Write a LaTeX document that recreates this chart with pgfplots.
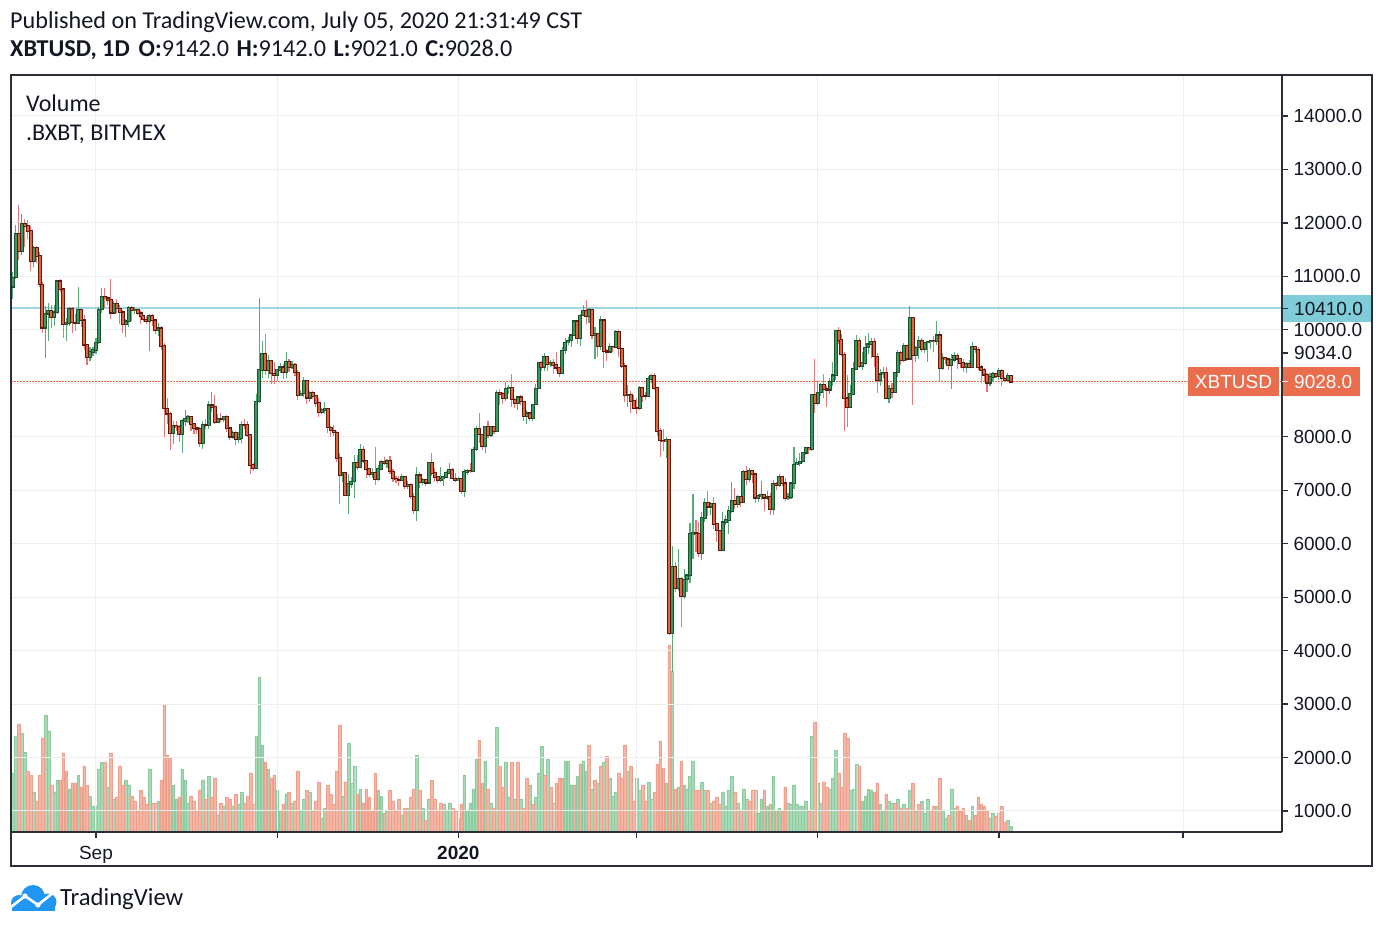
\documentclass[border=0pt]{standalone}
\usepackage{pgfplots}
\pgfplotsset{compat=1.18}
\usepackage{pgfplotstable}
\usepackage{fontspec}
\setmainfont{Carlito}
\newfontfamily\arialf{Liberation Sans}
\definecolor{upfill}{HTML}{3A9A5E}
\definecolor{upborder}{HTML}{1D4F31}
\definecolor{upwick}{HTML}{5AAA78}
\definecolor{dnfill}{HTML}{E4643C}
\definecolor{dnborder}{HTML}{5C1B10}
\definecolor{dnwick}{HTML}{E47878}
\definecolor{volg}{HTML}{A8D9B7}
\definecolor{volgd}{HTML}{8CCBA0}
\definecolor{volr}{HTML}{F6B6A6}
\definecolor{volrd}{HTML}{EFA08C}
\definecolor{gridc}{HTML}{EEEEEE}
\definecolor{textc}{HTML}{131722}
\definecolor{framec}{HTML}{2A2E39}
\definecolor{bluebox}{HTML}{81CCD9}
\definecolor{blueline}{HTML}{9FD6E1}
\definecolor{orangebox}{HTML}{EA6E4E}
\definecolor{dotred}{HTML}{EC6A48}
\definecolor{tvblue}{HTML}{2196F3}

\pgfplotstableread{
d o h l c
0 10807 11075 10577 10976
1 10976 11961 10950 11793
3 11462 12160 11400 11980
7 11280 11560 11180 11530
11 10040 10450 9480 10300
12 10300 10500 9800 10360
14 10230 10470 10080 10330
15 10330 10930 10300 10910
18 10110 10230 9800 10130
19 10130 10430 10080 10400
22 10130 10800 10120 10370
26 9490 9680 9420 9590
27 9590 9680 9520 9620
28 9620 9850 9550 9760
29 9760 10430 9740 10380
30 10380 10780 10320 10620
34 10320 10540 10300 10490
38 10100 10200 9860 10160
39 10160 10440 10050 10420
41 10360 10420 10290 10380
46 10160 10300 9600 10270
49 9990 10120 9880 10030
54 8060 8300 7870 8200
57 8050 8340 7700 8300
58 8300 8500 8200 8340
59 8340 8400 8250 8380
64 7880 8290 7780 8220
66 8210 8660 8150 8590
69 8270 8420 8250 8330
71 8320 8390 8270 8370
74 8000 8120 7960 8080
76 7960 8080 7880 7980
77 7980 8300 7880 8230
82 7410 8800 7400 8660
83 8660 10590 8630 9250
84 9250 9800 9100 9550
86 9250 9530 9100 9430
89 9150 9260 9050 9250
90 9250 9380 9200 9300
92 9200 9580 9100 9400
94 9300 9420 9270 9350
97 8770 8880 8760 8810
98 8810 9120 8740 9040
100 8730 8860 8650 8820
104 8460 8530 8430 8500
105 8500 8650 8430 8530
111 7280 7350 7150 7320
113 6900 7300 6550 7120
114 7120 7250 7050 7160
115 7160 7650 6850 7510
117 7430 7860 7420 7750
121 7300 7420 7230 7330
123 7200 7480 7180 7400
124 7400 7560 7380 7530
126 7510 7580 7420 7550
131 7190 7300 7180 7250
133 7070 7170 7030 7110
136 6620 7440 6430 7280
138 7150 7220 7090 7190
140 7140 7520 7130 7510
144 7190 7430 7160 7220
145 7220 7270 7080 7250
146 7250 7360 7240 7320
147 7320 7510 7300 7390
150 7190 7250 7170 7210
152 6980 7400 6880 7340
153 7340 7390 7280 7370
155 7350 7800 7340 7760
156 7760 8200 7730 8150
159 7820 8200 7690 8190
161 8020 8200 8000 8180
163 8100 8880 8090 8820
166 8720 9030 8670 8900
167 8900 8970 8800 8920
170 8630 8750 8500 8740
173 8390 8500 8240 8440
175 8340 8610 8300 8600
176 8600 8980 8590 8900
177 8900 9400 8890 9390
179 9300 9570 9230 9500
181 9350 9440 9300 9390
185 9180 9680 9170 9610
186 9610 9840 9540 9760
187 9760 9870 9720 9800
188 9800 9920 9680 9900
189 9900 10170 9880 10160
191 9850 10300 9700 10270
192 10270 10460 10260 10350
194 10250 10400 10130 10370
196 9900 10050 9450 9930
198 9700 10250 9620 10180
201 9590 9750 9560 9690
203 9670 9990 9670 9970
207 8780 8970 8560 8790
211 8530 8950 8510 8920
214 8750 9140 8750 9080
215 9080 9170 9000 9140
220 7910 8000 7600 7940
222 4330 5950 3600 5570
224 5170 5900 5120 5350
226 5010 5530 4960 5330
227 5330 5420 5090 5410
228 5410 6380 5260 6180
229 6180 6930 5720 6200
232 5820 6600 5700 6480
233 6480 6850 6400 6760
235 6690 6780 6540 6740
239 5880 6600 5860 6400
240 6400 6530 6350 6440
241 6440 6700 6180 6610
242 6610 7150 6580 6800
244 6740 6920 6660 6870
246 6780 7370 6780 7340
248 7200 7420 7150 7370
251 6860 6930 6780 6890
252 6890 7180 6820 6910
254 6860 6980 6810 6870
256 6640 7200 6540 7120
258 7100 7300 7060 7260
261 6850 6950 6810 6870
262 6870 7150 6840 7130
263 7130 7800 7030 7480
264 7480 7600 7470 7510
265 7510 7700 7450 7540
266 7540 7710 7500 7700
267 7700 7800 7660 7790
269 7770 8800 7740 8780
271 8620 9050 8600 8830
272 8830 9000 8770 8970
275 8880 9100 8800 9030
276 9030 9390 8950 9150
277 9150 10000 9060 9990
282 8560 8960 8530 8800
283 8800 9400 8780 9270
284 9270 9900 9260 9800
286 9320 9590 9250 9380
287 9380 9880 9350 9670
288 9670 9950 9550 9730
289 9730 9850 9480 9770
292 9060 9260 8950 9170
293 9170 9300 9090 9190
295 8720 8970 8640 8900
297 8840 9220 8820 9200
298 9200 9620 9110 9570
300 9430 9750 9390 9700
302 9460 10450 9430 10220
304 9520 9690 9400 9670
305 9670 9880 9460 9800
307 9640 9760 9560 9760
308 9760 9800 9400 9780
309 9780 9800 9650 9800
311 9780 10170 9710 9900
313 9280 9560 9250 9470
316 9340 9540 8900 9440
317 9440 9580 9390 9520
321 9300 9400 9200 9360
323 9300 9780 9290 9690
329 9010 9190 8950 9120
330 9120 9220 9020 9180
332 9130 9290 9070 9230
335 9060 9190 9050 9140
}\uptab

\pgfplotstableread{
d o h l c
2 11793 12335 11300 11462
4 11980 12080 11550 11940
5 11940 12050 11700 11850
6 11850 11950 11100 11280
8 11530 11560 11250 11380
9 11380 11450 10800 10850
10 10850 10900 9950 10040
13 10360 10470 10040 10230
16 10910 10950 10700 10760
17 10760 10780 9850 10110
20 10400 10420 9950 10140
21 10140 10300 9980 10130
23 10370 10390 10050 10180
24 10180 10280 9630 9720
25 9720 9730 9350 9490
31 10620 10790 10400 10590
32 10590 10630 10460 10560
33 10560 10950 10200 10320
35 10490 10580 10320 10400
36 10400 10460 10100 10330
37 10330 10380 9950 10100
40 10420 10440 10160 10360
42 10380 10390 10270 10310
43 10310 10370 10100 10260
44 10260 10270 10150 10190
45 10190 10250 10100 10160
47 10270 10290 10080 10180
48 10180 10190 9930 9990
50 10030 10070 9620 9700
51 9700 9760 8000 8530
52 8530 8730 8230 8430
53 8430 8470 7750 8060
55 8200 8300 8100 8180
56 8180 8220 7900 8050
60 8380 8390 8100 8240
61 8240 8250 8050 8160
62 8160 8190 8050 8150
63 8150 8190 7800 7880
65 8220 8330 8140 8210
67 8590 8840 8460 8560
68 8560 8790 8230 8270
70 8330 8450 8270 8320
72 8370 8410 8090 8160
73 8160 8170 7940 8000
75 8080 8100 7850 7960
78 8230 8330 8150 8220
79 8220 8300 8000 8030
80 8030 8050 7300 7470
81 7470 7500 7360 7410
85 9550 9930 9150 9250
87 9430 9440 8980 9180
88 9180 9400 8980 9150
91 9300 9360 9080 9200
93 9400 9450 9220 9300
95 9350 9380 9130 9200
96 9200 9240 8690 8770
99 9040 9070 8610 8730
101 8820 8850 8710 8760
102 8760 8790 8560 8630
103 8630 8730 8370 8460
106 8530 8540 8070 8170
107 8170 8200 8000 8120
108 8120 8220 8020 8080
109 8080 8110 7520 7600
110 7600 7700 6750 7280
112 7320 7340 6890 6900
116 7510 7650 7380 7430
118 7750 7820 7500 7550
119 7550 7560 7230 7400
120 7400 7420 7250 7300
122 7330 7800 7100 7200
125 7530 7620 7480 7510
127 7550 7640 7300 7350
128 7350 7390 7160 7220
129 7220 7270 7130 7200
130 7200 7260 7080 7190
132 7250 7270 7030 7070
134 7110 7130 6840 6880
135 6880 6940 6560 6620
137 7280 7350 7040 7150
139 7190 7200 7080 7140
141 7510 7700 7260 7320
142 7320 7420 7160 7250
143 7250 7270 7130 7190
148 7390 7410 7220 7220
149 7220 7320 7150 7190
151 7210 7210 6920 6980
154 7370 7500 7330 7350
157 8150 8450 7880 8040
158 8040 8060 7750 7820
160 8190 8290 7970 8020
162 8180 8200 8060 8100
164 8820 8900 8600 8800
165 8800 8840 8610 8720
168 8920 9170 8560 8700
169 8700 8730 8530 8630
171 8740 8790 8600 8660
172 8660 8670 8300 8390
174 8440 8450 8290 8340
178 9390 9420 9230 9300
180 9500 9510 9230 9350
182 9390 9460 9170 9340
183 9340 9590 9230 9290
184 9290 9300 9110 9180
190 10160 10170 9730 9850
193 10350 10560 10100 10250
195 10370 10380 9830 9900
197 9930 9950 9500 9700
199 10180 10200 9280 9600
200 9600 9650 9420 9590
202 9690 9700 9580 9670
204 9970 10000 9500 9650
205 9650 9660 9280 9320
206 9320 9380 8650 8780
208 8790 8860 8450 8670
209 8670 8780 8540 8540
210 8540 8730 8420 8530
212 8920 8920 8650 8760
213 8760 8840 8690 8750
216 9140 9190 8880 8910
217 8910 8910 8010 8110
218 8110 8160 7630 7930
219 7930 8150 7740 7910
221 7940 7960 4300 4330
223 5570 5650 5100 5170
225 5350 5370 4440 5010
230 6200 6450 5850 6190
231 6190 6410 5760 5820
234 6760 6980 6520 6690
236 6740 6870 6280 6370
237 6370 6380 6030 6250
238 6250 6260 5880 5880
243 6800 7050 6650 6740
245 6870 6900 6680 6780
247 7340 7460 7100 7200
249 7370 7380 7130 7300
250 7300 7310 6770 6860
253 6910 6920 6620 6860
255 6870 6940 6540 6640
257 7120 7150 7010 7100
259 7260 7270 7070 7130
260 7130 7220 6790 6850
268 7790 7810 7670 7770
270 8780 9460 8440 8620
273 8970 9180 8720 8890
274 8890 8950 8560 8880
278 9990 10060 9730 9810
279 9810 9920 9520 9540
280 9540 9580 8110 8720
281 8720 9150 8180 8560
285 9800 9850 9280 9320
290 9770 9840 9300 9500
291 9500 9570 8820 9060
294 9190 9300 8700 8720
296 8900 9010 8720 8840
299 9570 9600 9340 9430
301 9700 9720 9410 9460
303 10220 10230 8600 9520
306 9800 9850 9590 9640
310 9800 9880 9580 9780
312 9900 9980 9040 9280
314 9470 9490 9360 9450
315 9450 9480 9240 9340
318 9520 9560 9260 9460
319 9460 9480 9280 9380
320 9380 9450 9220 9300
322 9360 9430 9280 9300
324 9690 9700 9560 9630
325 9630 9670 9240 9300
326 9300 9340 9010 9250
327 9250 9280 9040 9160
328 9160 9190 8830 9010
331 9180 9200 9090 9130
333 9230 9270 8950 9090
334 9090 9120 9040 9060
336 9142 9142 9021 9028
}\dntab

\pgfplotsset{
  wickup/.style={draw=none, mark=none, forget plot,
    error bars/.cd, y dir=both, y explicit, error mark=none,
    error bar style={draw=upwick, line width=1.1bp}},
  wickdn/.style={draw=none, mark=none, forget plot,
    error bars/.cd, y dir=both, y explicit, error mark=none,
    error bar style={draw=dnwick, line width=1.1bp}},
  bodyout/.style={draw=none, mark=none, forget plot,
    error bars/.cd, y dir=both, y explicit, error mark=none,
    error bar style={draw=#1, line width=4bp}},
  bodyin/.style={draw=none, mark=none, forget plot,
    error bars/.cd, y dir=both, y explicit, error mark=none,
    error bar style={draw=#1, line width=2bp}},
}

\begin{document}
\begin{tikzpicture}
\fill[white] (0bp,0bp) rectangle (1383bp,929bp);

% ---------- volume pane ----------
\begin{axis}[at={(11bp,97bp)}, anchor=south west, scale only axis,
  width=1271bp, height=757bp,
  xmin=-0.6, xmax=427.3, ymin=0, ymax=757,
  hide axis, clip=true]
\addplot[ybar, bar width=2.7bp, bar shift=0bp, fill=volg, draw=volgd, line width=0.4bp] coordinates {
(0,59) (1,96) (3,99) (4,80) (7,40) (11,117) (12,101) (14,40) (15,52) (19,43) (22,57) (26,36) (27,26) (28,26) (29,63) (30,70) (32,45) (34,33) (38,52) (39,47) (46,63) (49,31) (54,47) (55,33) (57,63) (58,52) (59,29) (64,52) (66,56) (69,17) (71,26) (74,26) (76,28) (77,40) (82,96) (83,155) (84,87)
(86,63) (89,42) (90,22) (92,38) (94,29) (97,21) (98,33) (100,40) (104,14) (105,24) (111,36) (113,89) (114,49) (115,66) (117,43) (123,42) (124,36) (126,21) (131,17) (133,24) (136,77) (138,24) (140,33) (145,28) (146,22) (147,29) (150,14) (152,57) (153,22) (154,29) (155,43) (156,73) (159,71) (161,29) (163,105) (166,70) (167,35) (169,33)
(171,33) (174,47) (176,35) (177,59) (178,86) (180,73) (182,29) (186,71) (187,71) (188,47) (190,56) (192,71) (193,61) (195,43) (197,49) (199,70) (201,54) (202,36) (203,40) (207,61) (210,54) (211,42) (214,50) (215,33) (220,49) (222,161) (224,45) (226,47) (227,43) (228,56) (229,71) (232,50) (233,42) (235,29) (239,40) (240,26) (241,42) (242,56) (244,29) (246,43) (247,33) (250,42) (251,19) (252,33) (254,26)
(256,56) (258,24) (261,29) (262,28) (263,47) (264,28) (265,26) (266,26) (267,31) (269,96) (271,49) (272,29) (275,43) (276,54) (277,82) (282,42) (283,43) (284,68) (286,31) (287,36) (288,43) (289,42) (292,28) (293,21) (295,31) (296,29) (298,33) (300,28) (302,42) (304,21) (306,31) (307,19) (308,33) (311,26) (313,22) (314,14) (316,43) (317,24) (321,17) (323,26) (329,14) (330,19) (332,19) (335,12) (336,6)
};
\addplot[ybar, bar width=2.7bp, bar shift=0bp, fill=volr, draw=volrd, line width=0.4bp] coordinates {
(2,108) (5,61) (6,57) (8,31) (9,57) (10,94) (13,47) (16,52) (17,79) (18,61) (20,49) (21,49) (23,45) (24,66) (25,47) (31,70) (33,79) (35,35) (36,66) (37,47) (40,36) (41,31) (42,21) (43,42) (44,35) (45,28) (47,29) (48,29) (50,52) (51,127) (52,77) (53,75) (56,35) (60,36) (61,31) (62,22) (63,42) (65,33) (67,35) (68,54) (70,29) (72,35) (73,33) (75,38) (78,29) (79,36) (80,59) (81,28) (85,70)
(87,54) (88,57) (91,28) (93,40) (95,31) (96,61) (99,42) (101,21) (102,31) (103,50) (106,47) (107,38) (108,28) (109,61) (110,107) (112,50) (116,38) (118,29) (119,43) (120,35) (121,22) (122,59) (125,19) (127,42) (128,31) (129,21) (130,33) (132,24) (134,35) (135,43) (137,42) (139,12) (141,52) (142,33) (143,22) (144,29) (148,24) (149,21) (151,28) (157,92) (158,49) (160,43) (162,24) (164,66) (165,45) (168,70)
(170,70) (172,24) (173,54) (175,28) (179,57) (181,45) (183,49) (184,54) (185,54) (189,47) (191,68) (194,87) (196,52) (198,66) (200,76) (204,59) (205,54) (206,87) (208,66) (209,31) (212,47) (213,31) (216,40) (217,68) (218,91) (219,64) (221,187) (223,43) (225,71) (230,42) (231,42) (234,42) (236,31) (237,35) (238,28) (243,40) (245,21) (248,31) (249,42) (253,42)
(255,28) (257,22) (259,21) (260,45) (268,21) (270,110) (273,50) (274,45) (278,59) (279,45) (280,99) (281,94) (285,66) (290,40) (291,49) (294,38) (297,29) (299,24) (301,24) (303,49) (305,28) (309,22) (310,26) (312,54) (315,17) (318,26) (319,21) (320,24) (322,12) (324,17) (325,35) (326,28) (327,26) (328,21) (331,16) (333,26) (334,10)
};
\end{axis}

% ---------- price pane ----------
\begin{axis}[at={(11bp,97bp)}, anchor=south west, scale only axis,
  width=1271bp, height=757bp,
  xmin=-0.6, xmax=427.3, ymin=607, ymax=14767,
  axis line style={draw=none},
  scaled y ticks=false, scaled x ticks=false,
  xtick={28,89,150,210,271,332,394},
  xticklabels={Sep,{},\textbf{2020},{},{},{},{}},
  ytick={1000,2000,3000,4000,5000,6000,7000,8000,9000,10000,11000,12000,13000,14000},
  yticklabels={1000.0,2000.0,3000.0,4000.0,5000.0,6000.0,7000.0,8000.0,9000.0,10000.0,11000.0,12000.0,13000.0,14000.0},
  xtick pos=left, ytick pos=right, yticklabel pos=right,
  tick align=outside, major tick length=6bp,
  tick style={color=framec, line width=1.2bp},
  grid=major, major grid style={color=gridc, line width=1bp},
  ticklabel style={font=\arialf\fontsize{19bp}{21bp}\selectfont, text=textc},
  yticklabel style={anchor=west, xshift=2bp},
  xticklabel style={anchor=base, yshift=-22bp},
  clip=true]
\addplot[blueline, line width=1.4bp, forget plot] coordinates {(-0.6,10410) (427.3,10410)};
\addplot[dotred, line width=1.2bp, dash pattern=on 1.5bp off 1.5bp, forget plot] coordinates {(-0.6,9028) (427.3,9028)};
% wicks
\addplot[wickup] table[x=d, y expr={(\thisrow{h}+\thisrow{l})/2}, y error expr={(\thisrow{h}-\thisrow{l})/2}] {\uptab};
\addplot[wickdn] table[x=d, y expr={(\thisrow{h}+\thisrow{l})/2}, y error expr={(\thisrow{h}-\thisrow{l})/2}] {\dntab};
% bodies
\addplot[bodyout=upborder] table[x=d, y expr={(\thisrow{o}+\thisrow{c})/2}, y error expr={abs(\thisrow{c}-\thisrow{o})/2+15}] {\uptab};
\addplot[bodyin=upfill] table[x=d, y expr={(\thisrow{o}+\thisrow{c})/2}, y error expr={max(abs(\thisrow{c}-\thisrow{o})/2-6,0)}] {\uptab};
\addplot[bodyout=dnborder] table[x=d, y expr={(\thisrow{o}+\thisrow{c})/2}, y error expr={abs(\thisrow{c}-\thisrow{o})/2+15}] {\dntab};
\addplot[bodyin=dnfill] table[x=d, y expr={(\thisrow{o}+\thisrow{c})/2}, y error expr={max(abs(\thisrow{c}-\thisrow{o})/2-6,0)}] {\dntab};
\end{axis}

\begin{scope}[x=1bp,y=1bp]
% ---------- frame ----------
\draw[framec, line width=1.5bp] (11,97) -- (1282,97);
\draw[framec, line width=1.5bp] (1282,97) -- (1282,854);
\draw[framec, line width=2bp] (11,63) rectangle (1372,854);

% ---------- price labels ----------
\fill[bluebox] (1283,607) rectangle (1371,634);
\draw[framec, line width=1.2bp] (1282,620.5) -- (1288,620.5);
\node[anchor=west, inner sep=0, text=textc, font=\arialf\fontsize{19bp}{21bp}\selectfont] at (1294,620.5) {10410.0};
\draw[framec, line width=1.2bp] (1282,576) -- (1288,576);
\node[anchor=west, inner sep=0, text=textc, font=\arialf\fontsize{19bp}{21bp}\selectfont] at (1294,576) {9034.0};
\fill[orangebox] (1188,533) rectangle (1279,562);
\fill[orangebox] (1283,533) rectangle (1360,562);
\draw[white, line width=1.2bp] (1282,547.5) -- (1288,547.5);
\node[anchor=center, inner sep=0, text=white, font=\arialf\fontsize{19bp}{21bp}\selectfont] at (1233.5,547.5) {XBTUSD};
\node[anchor=west, inner sep=0, text=white, font=\arialf\fontsize{19bp}{21bp}\selectfont] at (1294,547.5) {9028.0};

% ---------- titles ----------
\node[anchor=base west, inner sep=0, text=textc, font=\fontsize{24.2bp}{28bp}\selectfont] at (10,900) {Published on TradingView.com, July 05, 2020 21:31:49 CST};
\node[anchor=base west, inner sep=0, text=textc, font=\fontsize{24.2bp}{28bp}\selectfont] at (10,872) {\textbf{XBTUSD, 1D}\hspace{9bp}\textbf{O:}9142.0\hspace{7.5bp}\textbf{H:}9142.0\hspace{7.5bp}\textbf{L:}9021.0\hspace{7.5bp}\textbf{C:}9028.0};
\node[anchor=base west, inner sep=0, text=textc, font=\fontsize{24bp}{28bp}\selectfont] at (26,817) {Volume};
\node[anchor=base west, inner sep=0, text=textc, font=\fontsize{24bp}{28bp}\selectfont] at (26,788) {.BXBT, BITMEX};

% ---------- logo ----------
\fill[tvblue] (19,26) circle (8);
\fill[tvblue] (33,32) circle (12);
\fill[tvblue] (48,27) circle (8.5);
\fill[tvblue] (12,18) rectangle (55,28);
\draw[white, line width=2.6bp, line join=round, line cap=round] (11,22) -- (25,33) -- (38,24) -- (54,37);
\fill[white] (25,33) circle (2.6);
\fill[white] (38,24) circle (2.6);
\node[anchor=base west, inner sep=0, text=textc, font=\fontsize{24.7bp}{28bp}\selectfont] at (60,24) {TradingView};
\end{scope}
\end{tikzpicture}
\end{document}
